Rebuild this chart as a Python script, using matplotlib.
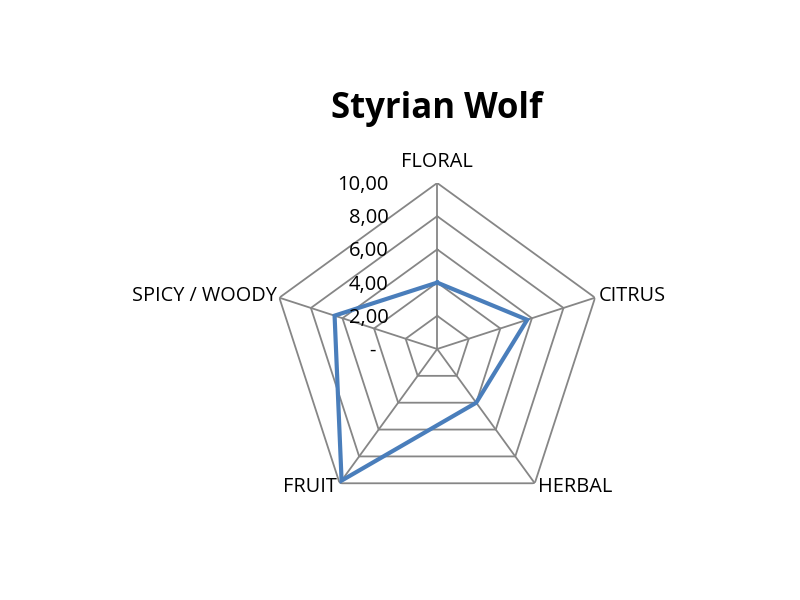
import numpy as np
import matplotlib.pyplot as plt

plt.rcParams['font.family'] = ['Open Sans', 'DejaVu Sans']

categories = ["FLORAL", "CITRUS", "HERBAL", "FRUIT", "SPICY / WOODY"]
values = [4.0, 5.7, 4.0, 9.8, 6.5]
levels = [0, 2, 4, 6, 8, 10]
level_labels = ["-", "2,00", "4,00", "6,00", "8,00", "10,00"]

grid_col = "#868686"
line_col = "#4A7EBB"

fig = plt.figure(figsize=(8, 6), dpi=100)
ax = fig.add_axes([0.339, 0.1417, 0.415, 0.5533], projection="polar")
ax.set_theta_offset(np.pi / 2)
ax.set_theta_direction(-1)

angles = np.linspace(0, 2 * np.pi, len(categories), endpoint=False)
closed = np.append(angles, angles[0])

# polygon grid
for lv in levels[1:]:
    ax.plot(closed, [lv] * len(closed), color=grid_col, lw=1.3, zorder=1)
for a in angles:
    ax.plot([a, a], [0, levels[-1]], color=grid_col, lw=1.3, zorder=1)

ax.plot(closed, values + values[:1], color=line_col, lw=3, zorder=3,
        solid_joinstyle="miter")

ax.set_ylim(0, 10)
ax.set_xticks([])
ax.set_yticks([])
ax.grid(False)
ax.spines["polar"].set_visible(False)
ax.patch.set_visible(False)

# radial tick labels
for lv, lbl in zip(levels, level_labels):
    dx = -35 if lbl != "-" else -44
    ax.annotate(lbl, xy=(0, lv), xytext=(dx, -1.5), textcoords="offset points",
                ha="right", va="center", fontsize=14.5)

# category labels
offsets = [(0, 15, "center"), (3, 1, "left"), (2, -3, "left"),
           (-2, -3, "right"), (-2, 1, "right")]
for a, cat, (ox, oy, ha) in zip(angles, categories, offsets):
    ax.annotate(cat, xy=(a, 10), xytext=(ox, oy), textcoords="offset points",
                ha=ha, va="center", fontsize=14.3)

fig.text(0.546, 0.803, "Styrian Wolf", ha="center", va="baseline",
         fontsize=25, fontweight="bold")

fig.savefig("out.png", dpi=100)
